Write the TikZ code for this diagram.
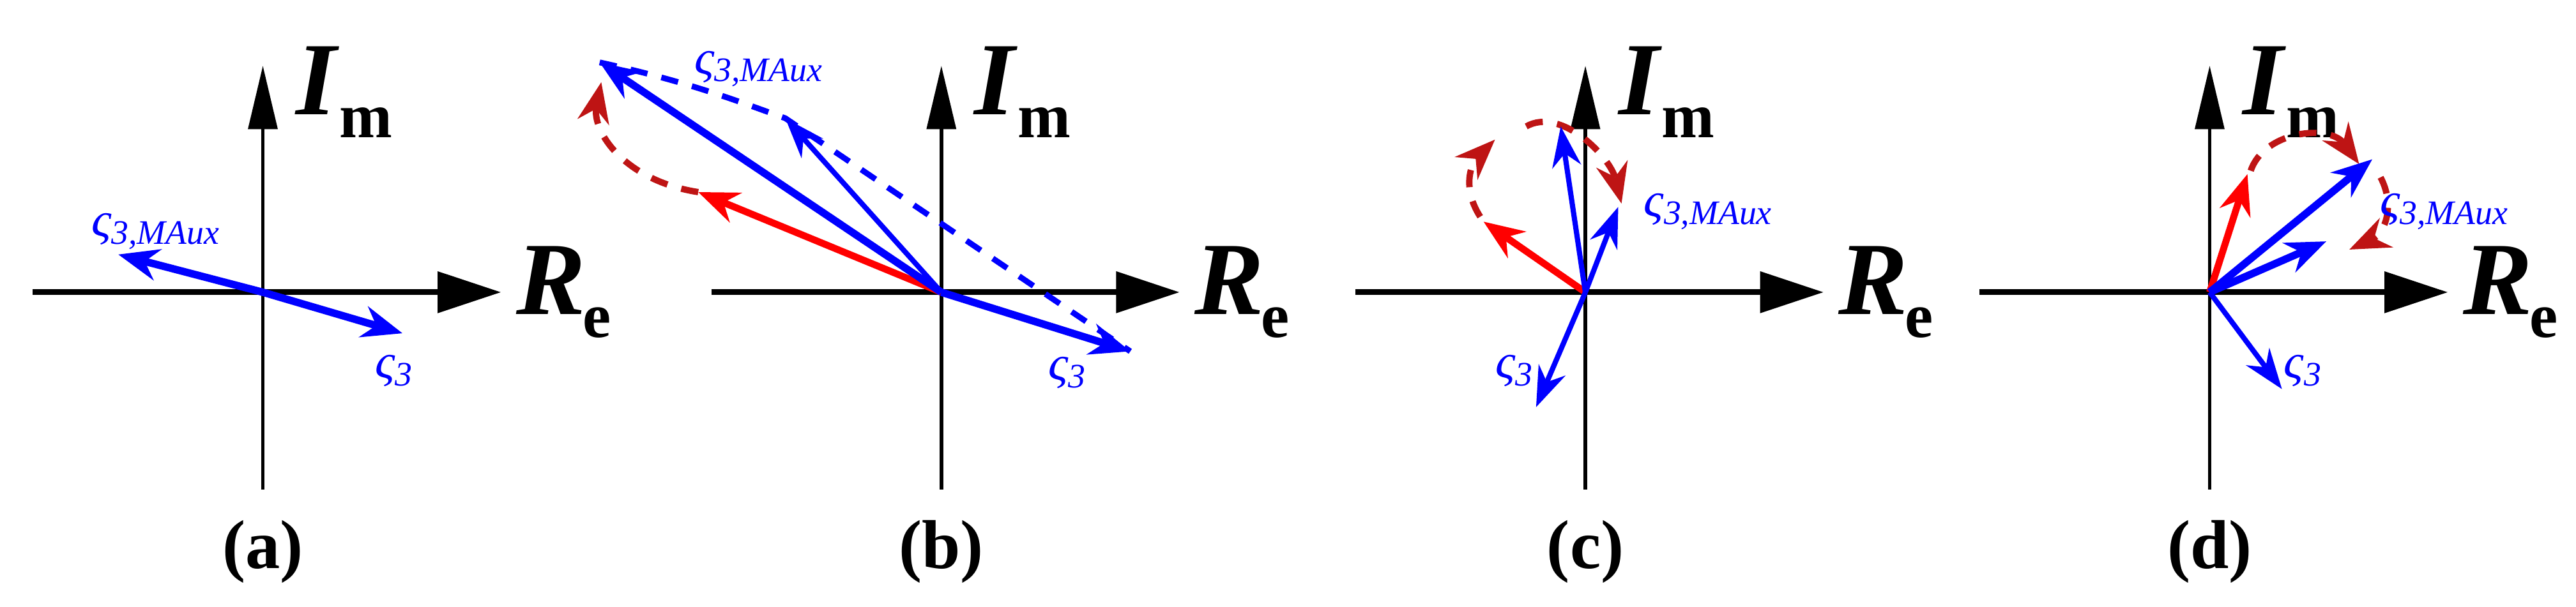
\documentclass[tikz,border=0pt]{standalone}
\usepackage{fontspec}
\setmainfont{Liberation Serif}
\usetikzlibrary{arrows.meta}
\definecolor{dred}{RGB}{190,20,20}
\begin{document}
\begin{tikzpicture}[x=0.02cm,y=-0.02cm,
  haxis/.style={line width=2pt,-{Triangle[length=22pt,width=14pt]}},
  vaxis/.style={line width=1.3pt,-{Triangle[length=22pt,width=10pt]}},
  bv/.style={blue,line width=2.6pt,-{Stealth[length=14pt,width=11pt]}},
  bvt/.style={blue,line width=1.8pt,-{Stealth[length=14pt,width=10pt]}},
  rv/.style={red,line width=2.4pt,-{Stealth[length=14pt,width=11pt]}},
  rd/.style={dred,line width=2.2pt,dash pattern=on 6pt off 5pt,-{Stealth[length=14pt,width=11pt]}},
  bd/.style={blue,line width=2pt,dash pattern=on 6pt off 5pt},
  lab/.style={text=blue,font=\fontsize{17}{17}\selectfont\itshape},
  axl/.style={font=\fontsize{36}{36}\selectfont\bfseries\itshape},
  captxt/.style={font=\fontsize{24}{24}\selectfont\bfseries}]
\useasboundingbox (0,0) rectangle (1568,369.4);
\newcommand{\axes}[2]{%
  \coordinate (O#2) at (#1,178);
  \coordinate (L#2) at (#1-140,178);
  \coordinate (R#2) at (#1+145,178);
  \coordinate (B#2) at (#1,298);
  \coordinate (T#2) at (#1,40);
  \draw[haxis] (L#2) -- (R#2);
  \draw[vaxis] (B#2) -- (T#2);
  \node[axl,anchor=west] (re#2) at (#1+148,178) {R\kern-1pt\raisebox{-8pt}{\normalfont\fontsize{22}{22}\selectfont\bfseries e}};
  \node[axl,anchor=west] (im#2) at (#1+14,56) {I\kern1pt\raisebox{-8pt}{\normalfont\fontsize{22}{22}\selectfont\bfseries m}};
  \node[captxt] (cap#2) at (#1,336) {(#2)};
}
% (a)
\axes{160}{a}
\coordinate (a1) at (72,155); \coordinate (a2) at (245,203);
\draw[bv] (Oa) -- (a1);
\draw[bv] (Oa) -- (a2);
\node[lab] (la1) at (95,141) {ς\textsubscript{3,MAux}};
\node[lab] (la2) at (240,226) {ς\textsubscript{3}};
% (b)
\axes{573}{b}
\coordinate (b1) at (365,38); \coordinate (b2) at (478,72);
\coordinate (b3) at (425,117); \coordinate (b4) at (688,214);
\draw[bd] (b1) .. controls (420,50) and (450,62) .. (b2) -- (b4);
\draw[rd] (b3) .. controls (380,110) and (360,80) .. (366,50);
\draw[rv] (Ob) -- (b3);
\draw[bv] (Ob) -- (b1);
\draw[bvt] (Ob) -- (b2);
\draw[bv] (Ob) -- (b4);
\node[lab] (lb1) at (462,42) {ς\textsubscript{3,MAux}};
\node[lab] (lb2) at (650,227) {ς\textsubscript{3}};
% (c)
\axes{965}{c}
\coordinate (c1) at (903,135); \coordinate (c2) at (950,77);
\coordinate (c3) at (985,126); \coordinate (c4) at (935,248);
\draw[rd] (901,132) .. controls (890,115) and (895,100) .. (910,85);
\draw[rd] (929,77) .. controls (950,65) and (980,95) .. (987,124);
\draw[rv] (Oc) -- (c1);
\draw[bvt] (Oc) -- (c2);
\draw[bvt] (Oc) -- (c3);
\draw[bvt] (Oc) -- (c4);
\node[lab] (lc1) at (1040,129) {ς\textsubscript{3,MAux}};
\node[lab] (lc2) at (922,226) {ς\textsubscript{3}};
% (d)
\axes{1345}{d}
\coordinate (d1) at (1368,106); \coordinate (d2) at (1444,97);
\coordinate (d3) at (1416,147); \coordinate (d4) at (1389,237);
\draw[rd] (1370,104) .. controls (1378,80) and (1418,75) .. (1436,100);
\draw[rd] (1449,108) .. controls (1458,125) and (1452,142) .. (1430,152);
\draw[rv] (Od) -- (d1);
\draw[bv] (Od) -- (d2);
\draw[bv] (Od) -- (d3);
\draw[bvt] (Od) -- (d4);
\node[lab] (ld1) at (1488,129) {ς\textsubscript{3,MAux}};
\node[lab] (ld2) at (1402,226) {ς\textsubscript{3}};
\end{tikzpicture}
\end{document}
